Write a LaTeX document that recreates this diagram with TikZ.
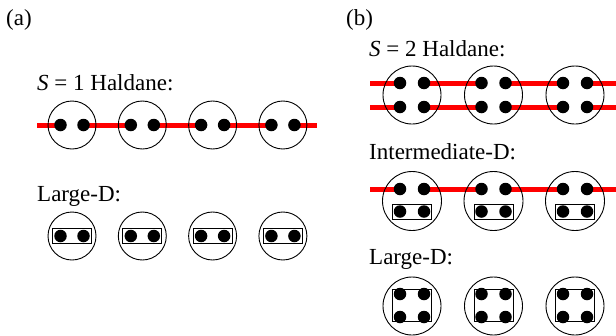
\documentclass[tikz,border=0pt]{standalone}
\usepackage{fontspec}
\setmainfont{Liberation Serif}
\newfontfamily\figfont{Liberation Serif}
\usetikzlibrary{backgrounds}

\begin{document}
\begin{tikzpicture}[x=1pt, y=-1pt,
  site/.style={circle, draw, line width=0.9pt, inner sep=0pt, minimum size=#1},
  site/.default=48pt,
  spin/.style={circle, fill, inner sep=0pt, minimum size=12.5pt},
  pairbox/.style={draw, line width=0.9pt, inner sep=0pt, minimum width=39pt, minimum height=#1},
  pairbox/.default=15pt,
  bond/.style={red, line width=5pt},
  lbl/.style={anchor=base west, inner sep=0pt, font=\figfont\fontsize{23}{27}\selectfont}]
\useasboundingbox (0,0) rectangle (616,335);

% panel (a)
\node[lbl] (taga) at (6,25) {(a)};
\node[lbl] (texta1) at (37,90) {\textit{S} = 1 Haldane:};
\node[lbl] (texta2) at (37,201) {Large-D:};

% S=1 Haldane chain
\foreach \i in {1,...,4} {
  \pgfmathsetmacro{\cx}{72+70.3*(\i-1)}
  \node[site] (ah\i) at (\cx,125) {};
  \node[spin] (ahl\i) at (\cx-11.5,125) {};
  \node[spin] (ahr\i) at (\cx+11.5,125) {};
}
\coordinate (ahr0) at (37,125);
\coordinate (ahl5) at (317,125);

% large-D sites
\foreach \i in {1,...,4} {
  \pgfmathsetmacro{\cx}{72+70.3*(\i-1)}
  \node[site] (al\i) at (\cx,236) {};
  \node[pairbox] (alb\i) at (\cx,236) {};
  \node[spin] (all\i) at (\cx-11.5,236) {};
  \node[spin] (alr\i) at (\cx+11.5,236) {};
}

% panel (b)
\node[lbl] (tagb) at (346,25) {(b)};
\node[lbl] (textb1) at (369,56) {\textit{S} = 2 Haldane:};
\node[lbl] (textb2) at (369,159) {Intermediate-D:};
\node[lbl] (textb3) at (369,264) {Large-D:};

% S=2 Haldane chain
\foreach \i in {1,...,3} {
  \pgfmathsetmacro{\cx}{412+81.5*(\i-1)}
  \node[site=58pt] (bh\i) at (\cx,95) {};
  \node[spin] (bhtl\i) at (\cx-12,83) {};
  \node[spin] (bhtr\i) at (\cx+12,83) {};
  \node[spin] (bhbl\i) at (\cx-12,107) {};
  \node[spin] (bhbr\i) at (\cx+12,107) {};
}
\coordinate (bhtr0) at (370,83);
\coordinate (bhtl4) at (616,83);
\coordinate (bhbr0) at (370,107);
\coordinate (bhbl4) at (616,107);

% intermediate-D chain
\foreach \i in {1,...,3} {
  \pgfmathsetmacro{\cx}{412+81.5*(\i-1)}
  \node[site=59pt] (bi\i) at (\cx,201) {};
  \node[pairbox] (bib\i) at (\cx,211.5) {};
  \node[spin] (bitl\i) at (\cx-12,189) {};
  \node[spin] (bitr\i) at (\cx+12,189) {};
  \node[spin] (bibl\i) at (\cx-12,211.5) {};
  \node[spin] (bibr\i) at (\cx+12,211.5) {};
}
\coordinate (bitr0) at (370,189);
\coordinate (bitl4) at (616,189);

% large-D sites
\foreach \i in {1,...,3} {
  \pgfmathsetmacro{\cx}{412+81.5*(\i-1)}
  \node[site=58pt] (bl\i) at (\cx,306) {};
  \node[pairbox=32pt] (blb\i) at (\cx,305.5) {};
  \node[spin] (bltl\i) at (\cx-12,294) {};
  \node[spin] (bltr\i) at (\cx+12,294) {};
  \node[spin] (blbl\i) at (\cx-12,317) {};
  \node[spin] (blbr\i) at (\cx+12,317) {};
}

% valence bonds behind the spins
\begin{scope}[on background layer]
  \foreach \i [count=\j] in {0,...,4}
    \draw[bond] (ahr\i.center) -- (ahl\j.center);
  \foreach \i [count=\j] in {0,...,3} {
    \draw[bond] (bhtr\i.center) -- (bhtl\j.center);
    \draw[bond] (bhbr\i.center) -- (bhbl\j.center);
    \draw[bond] (bitr\i.center) -- (bitl\j.center);
  }
\end{scope}
\end{tikzpicture}
\end{document}
